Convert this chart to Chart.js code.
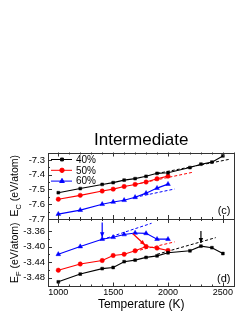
<!DOCTYPE html>
<html>
<head>
<script src="https://cdn.jsdelivr.net/npm/chart.js"></script>
<style>
  body { margin: 0; background: #fff; }
  #wrap { position: relative; width: 249px; height: 323px; }
  canvas { position: absolute; left: 0; top: 0; }
</style>
</head>
<body>
<div id="wrap">
  <canvas id="chart-ec" width="249" height="323"></canvas>
  <canvas id="chart-ef" width="249" height="323"></canvas>
</div>
<script>
// temperatures (K)
var temps40 = [1000, 1200, 1400, 1500, 1600, 1700, 1800, 1900, 2000, 2200, 2300, 2400, 2500];
var temps = [1000, 1200, 1400, 1500, 1600, 1700, 1800, 1900, 2000];
var seriesLabels = ['40%', '50%', '60%'];

// (c) cohesive energy
var ec40 = [-7.522, -7.494, -7.466, -7.454, -7.437, -7.427, -7.411, -7.391, -7.387, -7.352, -7.329, -7.315, -7.273];
var ec50 = [-7.566, -7.540, -7.511, -7.498, -7.480, -7.466, -7.450, -7.428, -7.410];
var ec60 = [-7.667, -7.640, -7.600, -7.585, -7.573, -7.553, -7.525, -7.491, -7.464];
// linear fits (dashed), end points
var ecFit40X = [1900, 2560], ecFit40Y = [-7.392, -7.296];
var ecFit50X = [1700, 2230], ecFit50Y = [-7.466, -7.383];
var ecFit60X = [1700, 2060], ecFit60Y = [-7.553, -7.497];

// (d) formation energy
var ef40 = [-3.491, -3.471, -3.457, -3.454, -3.439, -3.435, -3.428, -3.424, -3.416, -3.411, -3.399, -3.403, -3.418];
var ef50 = [-3.461, -3.445, -3.436, -3.423, -3.420, -3.411, -3.400, -3.404, -3.410];
var ef60 = [-3.420, -3.400, -3.381, -3.376, -3.369, -3.365, -3.366, -3.381, -3.381];
var efFit40X = [1900, 2435], efFit40Y = [-3.420, -3.377];
var efFit50X = [1700, 2060], efFit50Y = [-3.412, -3.388];
var efFit60X = [1400, 1850], efFit60Y = [-3.382, -3.340];

// arrows in panel (d): start and end in data units
var arrowFromX = [1400, 2300, 1680], arrowFromY = [-3.338, -3.360, -3.367];
var arrowToX = [1400, 2300, 1790], arrowToY = [-3.376, -3.391, -3.396];

// axes
var xTicks = [1000, 1500, 2000, 2500];
var ecTicks = [-7.7, -7.6, -7.5, -7.4, -7.3];
var efTicks = [-3.48, -3.44, -3.40, -3.36];

var colors = ['#000000', '#ff0000', '#0000ff'];
var arrowColors = ['#0000ff', '#000000', '#ff0000'];
var markers = ['rect', 'circle', 'triangle'];
var radii = [2, 2.2, 2.7];
var FONT = "'Liberation Sans', Arial, sans-serif";

function xy(xs, ys) {
    return xs.map(function (x, i) { return { x: x, y: ys[i] }; });
}

function seriesSet(i, xs, ys) {
    return {
        label: seriesLabels[i],
        data: xy(xs, ys),
        borderColor: colors[i],
        backgroundColor: colors[i],
        borderWidth: 1.1,
        pointStyle: markers[i],
        pointRadius: radii[i],
        pointBorderWidth: 0.5,
        order: 1
    };
}

function fitSet(i, xs, ys) {
    return {
        label: 'fit',
        data: xy(xs, ys),
        borderColor: colors[i],
        borderWidth: 1,
        borderDash: [3, 2],
        pointRadius: 0,
        order: 2
    };
}

// frame box + inward ticks + panel tag + y title
var framePlugin = {
    id: 'frame',
    afterDraw: function (chart, args, opts) {
        var ctx = chart.ctx, a = chart.chartArea;
        var xs = chart.scales.x, ys = chart.scales.y;
        ctx.save();
        ctx.strokeStyle = '#333';
        ctx.lineWidth = 1;
        ctx.beginPath();
        for (var v = 1000; v <= 2600; v += 100) {
            var px = Math.round(xs.getPixelForValue(v)) + 0.5;
            var len = v % 500 === 0 ? 4 : 2;
            ctx.moveTo(px, a.bottom); ctx.lineTo(px, a.bottom - len);
            ctx.moveTo(px, a.top); ctx.lineTo(px, a.top + len);
        }
        var t = opts.ticks;
        for (var i = 0; i < t.length; i++) {
            var py = Math.round(ys.getPixelForValue(t[i])) + 0.5;
            ctx.moveTo(a.left, py); ctx.lineTo(a.left + 4, py);
            if (i < t.length - 1) {
                var pm = Math.round(ys.getPixelForValue((t[i] + t[i + 1]) / 2)) + 0.5;
                ctx.moveTo(a.left, pm); ctx.lineTo(a.left + 2, pm);
            }
        }
        ctx.stroke();
        ctx.strokeRect(Math.round(a.left) + 0.5, Math.round(a.top) + 0.5,
            Math.round(a.right - a.left) - 1, Math.round(a.bottom - a.top) - 1);

        // panel tag
        ctx.fillStyle = '#000';
        ctx.font = '11px ' + FONT;
        ctx.textAlign = 'right';
        ctx.textBaseline = 'middle';
        ctx.fillText(opts.tag, a.right - 4, a.bottom - 8);

        // y title with subscript, rotated
        ctx.translate(14, (a.top + a.bottom) / 2);
        ctx.rotate(-Math.PI / 2);
        ctx.textAlign = 'left';
        ctx.textBaseline = 'alphabetic';
        var big = '10.5px ' + FONT, small = '7.5px ' + FONT;
        ctx.font = big; var w1 = ctx.measureText('E').width;
        var w3 = ctx.measureText(opts.rest).width;
        ctx.font = small; var w2 = ctx.measureText(opts.sub).width;
        var x0 = -(w1 + w2 + w3) / 2;
        ctx.font = big; ctx.fillText('E', x0, 4);
        ctx.font = small; ctx.fillText(opts.sub, x0 + w1, 6.5);
        ctx.font = big; ctx.fillText(opts.rest, x0 + w1 + w2, 4);
        ctx.restore();
    }
};

var legendPlugin = {
    id: 'lineLegend',
    afterDraw: function (chart, args, opts) {
        if (!opts.show) return;
        var ctx = chart.ctx, a = chart.chartArea;
        ctx.save();
        ctx.font = '10px ' + FONT;
        ctx.textBaseline = 'middle';
        for (var i = 0; i < seriesLabels.length; i++) {
            var y = a.top + 7 + i * 10.8;
            ctx.strokeStyle = colors[i];
            ctx.fillStyle = colors[i];
            ctx.lineWidth = 1;
            ctx.beginPath();
            ctx.moveTo(a.left + 3, y); ctx.lineTo(a.left + 24, y);
            ctx.stroke();
            Chart.helpers.drawPoint(ctx, { pointStyle: markers[i], radius: radii[i], rotation: 0, borderWidth: 0.5 }, a.left + 14, y);
            ctx.fillStyle = '#000';
            ctx.fillText(seriesLabels[i], a.left + 28, y + 0.5);
        }
        ctx.restore();
    }
};

var arrowPlugin = {
    id: 'arrows',
    afterDatasetsDraw: function (chart, args, opts) {
        if (!opts.show) return;
        var ctx = chart.ctx, xs = chart.scales.x, ys = chart.scales.y;
        ctx.save();
        for (var i = 0; i < arrowFromX.length; i++) {
            var x1 = xs.getPixelForValue(arrowFromX[i]), y1 = ys.getPixelForValue(arrowFromY[i]);
            var x2 = xs.getPixelForValue(arrowToX[i]), y2 = ys.getPixelForValue(arrowToY[i]);
            var ang = Math.atan2(y2 - y1, x2 - x1);
            ctx.strokeStyle = arrowColors[i];
            ctx.fillStyle = arrowColors[i];
            ctx.lineWidth = 1.2;
            ctx.beginPath();
            ctx.moveTo(x1, y1); ctx.lineTo(x2, y2);
            ctx.stroke();
            ctx.beginPath();
            ctx.moveTo(x2, y2);
            ctx.lineTo(x2 - 5 * Math.cos(ang) + 2.2 * Math.sin(ang), y2 - 5 * Math.sin(ang) - 2.2 * Math.cos(ang));
            ctx.lineTo(x2 - 5 * Math.cos(ang) - 2.2 * Math.sin(ang), y2 - 5 * Math.sin(ang) + 2.2 * Math.cos(ang));
            ctx.closePath();
            ctx.fill();
        }
        ctx.restore();
    }
};

function yScale(min, max, ticks, digits) {
    return {
        type: 'linear', min: min, max: max,
        grid: { display: false, drawTicks: false },
        border: { display: false },
        afterBuildTicks: function (s) { s.ticks = ticks.map(function (v) { return { value: v }; }); },
        afterFit: function (s) { s.width = 48; },
        ticks: {
            font: { size: 9.5, family: FONT }, color: '#000', padding: 3,
            callback: function (v) { return v.toFixed(digits); }
        }
    };
}

var xRange = { min: 906, max: 2606 };

var chartEc = new Chart(document.getElementById('chart-ec'), {
    type: 'line',
    data: {
        datasets: [
            seriesSet(0, temps40, ec40), seriesSet(1, temps, ec50), seriesSet(2, temps, ec60),
            fitSet(0, ecFit40X, ecFit40Y), fitSet(1, ecFit50X, ecFit50Y), fitSet(2, ecFit60X, ecFit60Y)
        ]
    },
    options: {
        responsive: false, animation: false,
        layout: { padding: { top: 129.8, bottom: 104, left: 0, right: 14.5 } },
        scales: {
            x: { type: 'linear', min: xRange.min, max: xRange.max, display: false },
            y: yScale(-7.7, -7.25, ecTicks, 1)
        },
        plugins: {
            legend: { display: false },
            tooltip: { enabled: false },
            title: {
                display: true, text: 'Intermediate', fullSize: false,
                font: { size: 17, family: FONT, weight: 'normal' }, color: '#000',
                padding: { top: 0, bottom: 2.3 }
            },
            frame: { ticks: ecTicks, tag: '(c)', sub: 'C', rest: ' (eV/atom)' },
            lineLegend: { show: true },
            arrows: { show: false }
        }
    },
    plugins: [framePlugin, legendPlugin, arrowPlugin]
});

var chartEf = new Chart(document.getElementById('chart-ef'), {
    type: 'line',
    data: {
        datasets: [
            seriesSet(0, temps40, ef40), seriesSet(1, temps, ef50), seriesSet(2, temps, ef60),
            fitSet(0, efFit40X, efFit40Y), fitSet(1, efFit50X, efFit50Y), fitSet(2, efFit60X, efFit60Y)
        ]
    },
    options: {
        responsive: false, animation: false,
        layout: { padding: { top: 219, bottom: 11.5, left: 0, right: 14.5 } },
        scales: {
            x: {
                type: 'linear', min: xRange.min, max: xRange.max,
                grid: { display: false, drawTicks: false }, border: { display: false },
                afterBuildTicks: function (s) { s.ticks = xTicks.map(function (v) { return { value: v }; }); },
                ticks: {
                    font: { size: 9, family: FONT }, color: '#000', padding: 0.5, maxRotation: 0,
                    callback: function (v) { return String(v); }
                },
                title: {
                    display: true, text: 'Temperature (K)', color: '#000',
                    font: { size: 12, family: FONT, lineHeight: 1.1 }, padding: 0
                }
            },
            y: yScale(-3.503, -3.329, efTicks, 2)
        },
        plugins: {
            legend: { display: false },
            tooltip: { enabled: false },
            frame: { ticks: efTicks, tag: '(d)', sub: 'F', rest: ' (eV/atom)' },
            lineLegend: { show: false },
            arrows: { show: true }
        }
    },
    plugins: [framePlugin, legendPlugin, arrowPlugin]
});
</script>
</body>
</html>
